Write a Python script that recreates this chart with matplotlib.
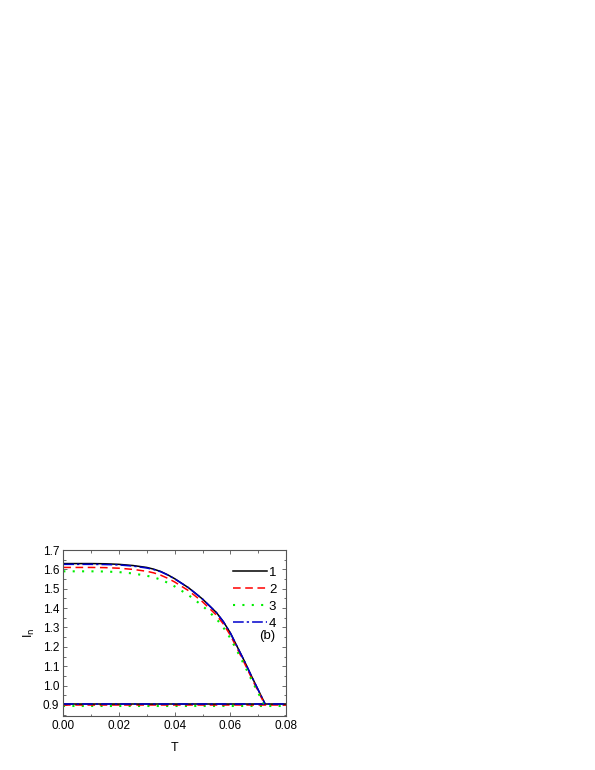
import matplotlib
matplotlib.use('Agg')
import matplotlib.pyplot as plt
from matplotlib.ticker import MultipleLocator, FormatStrFormatter

plt.rcParams['font.family'] = ['Liberation Sans', 'DejaVu Sans']

# upper branch
T = [0.0, 0.01, 0.015, 0.02, 0.025, 0.03, 0.0325, 0.035, 0.0375, 0.04, 0.045, 0.05, 0.055,
     0.0575, 0.06, 0.0625, 0.065, 0.0675, 0.07, 0.0725]
I1 = [1.630, 1.630, 1.629, 1.626, 1.620, 1.610, 1.601, 1.589, 1.572, 1.552, 1.505, 1.447, 1.377,
      1.330, 1.272, 1.200, 1.128, 1.052, 0.978, 0.905]
I2 = [1.610, 1.610, 1.609, 1.606, 1.600, 1.590, 1.582, 1.570, 1.554, 1.535, 1.490, 1.433, 1.364,
      1.318, 1.260, 1.190, 1.118, 1.043, 0.970, 0.900]
I3 = [1.590, 1.590, 1.589, 1.586, 1.579, 1.567, 1.559, 1.547, 1.531, 1.512, 1.467, 1.412, 1.345,
      1.300, 1.245, 1.177, 1.107, 1.033, 0.962, 0.895]
I4 = [1.626, 1.626, 1.625, 1.623, 1.617, 1.607, 1.599, 1.588, 1.571, 1.551, 1.505, 1.447, 1.377,
      1.330, 1.272, 1.200, 1.128, 1.052, 0.978, 0.905]

# lower branch (constant)
T_low = [0.0, 0.08]
low = {'1': 0.905, '2': 0.900, '3': 0.895, '4': 0.905}

fig = plt.figure(figsize=(5.95, 7.7), dpi=100)
ax = fig.add_axes([0.1064, 0.0701, 0.3743, 0.2156])

styles = {
    '1': dict(color='black', ls='-', lw=1.1),
    '2': dict(color='red', ls=(0, (5, 3)), lw=1.1),
    '3': dict(color='#00ee00', ls=(0, (1, 3.5)), lw=1.5),
    '4': dict(color='#0000cc', ls=(0, (7, 2, 1.5, 2)), lw=1.1),
}
for key in ['3', '2', '1', '4']:
    ax.plot(T_low, [low[key]] * 2, **styles[key])
for key, I in [('1', I1), ('2', I2), ('3', I3), ('4', I4)]:
    ax.plot(T, I, label=key, **styles[key])

ax.set_xlim(0, 0.08)
ax.set_ylim(0.843, 1.7)
ax.xaxis.set_major_locator(MultipleLocator(0.02))
ax.xaxis.set_minor_locator(MultipleLocator(0.01))
ax.yaxis.set_major_locator(MultipleLocator(0.1))
ax.yaxis.set_minor_locator(MultipleLocator(0.05))
ax.xaxis.set_major_formatter(FormatStrFormatter('%.2f'))
ax.yaxis.set_major_formatter(FormatStrFormatter('%.1f'))
ax.tick_params(which='both', direction='in', top=True, right=True, labelsize=8.5,
               width=0.6, color='#555555', pad=3)
ax.tick_params(which='major', length=3)
ax.tick_params(which='minor', length=1.8)
for s in ax.spines.values():
    s.set_linewidth(0.8)
    s.set_color('#555555')

ax.set_xlabel('T', fontsize=9, labelpad=7)
ax.set_ylabel('I$_\\mathrm{n}$', fontsize=9, labelpad=4)

ax.legend(loc='upper right', bbox_to_anchor=(1.01, 0.97), frameon=False, fontsize=9.5,
          handlelength=2.6, handletextpad=0.15, labelspacing=0.35)
ax.text(0.915, 0.48, '(b)', transform=ax.transAxes, fontsize=9.5, ha='center', va='center')

fig.savefig('out.png', dpi=100)
